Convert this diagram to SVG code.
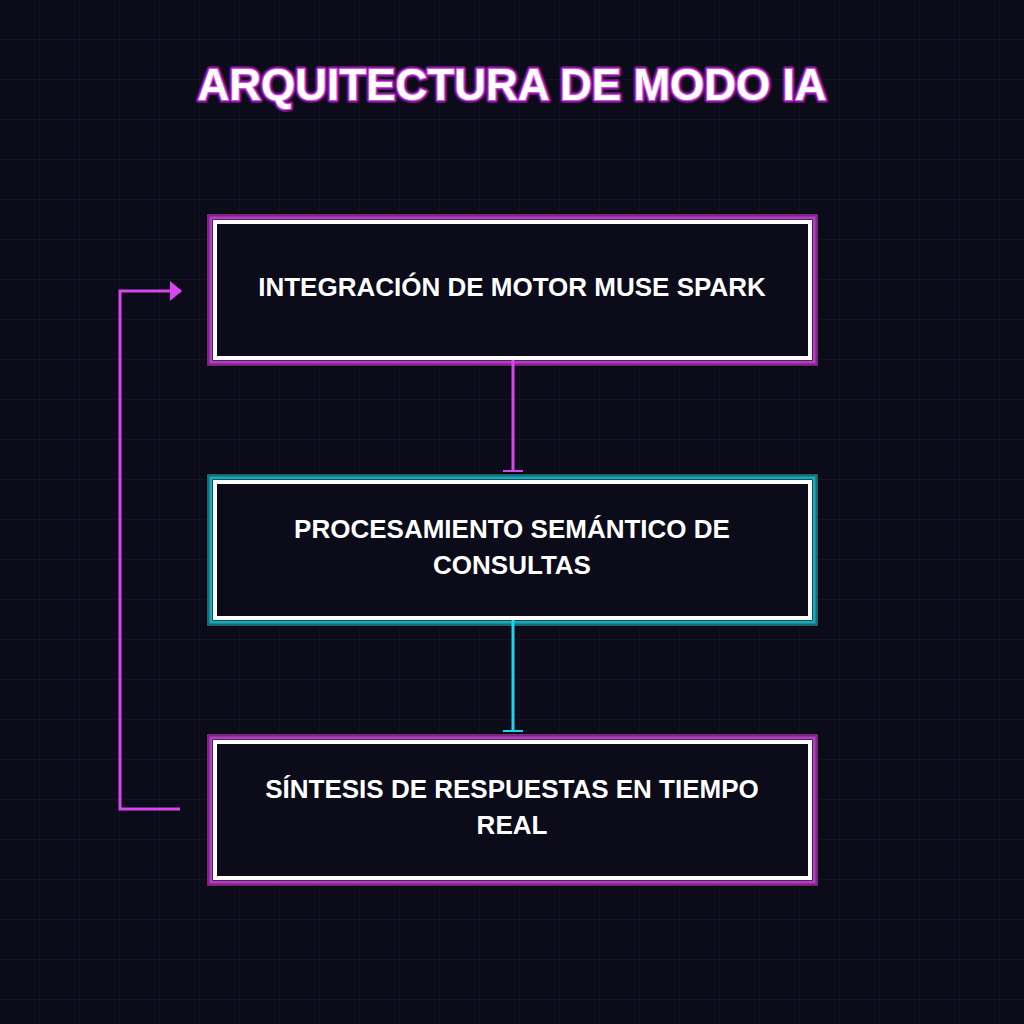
<svg xmlns="http://www.w3.org/2000/svg" width="1024" height="1024" viewBox="0 0 1024 1024">
<defs>
<pattern id="grid" width="40" height="40" patternUnits="userSpaceOnUse"><path d="M40 0V40H0" fill="none" stroke="#1a1a30" stroke-width="1"/></pattern>
<marker id="arr" markerWidth="12" markerHeight="20" refX="11" refY="10" orient="auto" markerUnits="userSpaceOnUse" viewBox="0 0 12 20"><path d="M0 0L12 10L0 20Z" fill="#d946ef"/></marker>
</defs>
<style>
.t{font-family:"Liberation Sans",Arial,sans-serif;font-weight:bold;fill:#fff;text-anchor:middle}
.lbl{font-size:26px}
.box{fill:#0b0b1a;stroke:#fff;stroke-width:4}
</style>
<rect width="1024" height="1024" fill="#0b0b1a"/>
<rect width="1024" height="1024" fill="url(#grid)"/>
<text x="512" y="100" class="t" font-size="44" stroke="#a21caf" stroke-width="6" stroke-linejoin="round" opacity="0.6">ARQUITECTURA DE MODO IA</text>
<text x="512" y="100" class="t" font-size="44" stroke="#d946ef" stroke-width="2.5" stroke-linejoin="round" paint-order="stroke">ARQUITECTURA DE MODO IA</text>
<g id="n1">
<rect x="206" y="213" width="613" height="154" fill="#000"/>
<rect x="208.5" y="215.5" width="608" height="149" fill="none" stroke="#7e2488" stroke-width="3"/>
<rect x="211" y="218" width="603" height="144" fill="none" stroke="#b040c0" stroke-width="3"/>
<rect x="215" y="222" width="595" height="136" class="box"/>
<text x="512" y="296" class="t lbl">INTEGRACIÓN DE MOTOR MUSE SPARK</text>
</g>
<g id="n2">
<rect x="206" y="473" width="613" height="154" fill="#000"/>
<rect x="208.5" y="475.5" width="608" height="149" fill="none" stroke="#136c78" stroke-width="3"/>
<rect x="211" y="478" width="603" height="144" fill="none" stroke="#1ca8b8" stroke-width="3"/>
<rect x="215" y="482" width="595" height="136" class="box"/>
<text x="512" y="538" class="t lbl">PROCESAMIENTO SEMÁNTICO DE</text>
<text x="512" y="574" class="t lbl">CONSULTAS</text>
</g>
<g id="n3">
<rect x="206" y="733" width="613" height="154" fill="#000"/>
<rect x="208.5" y="735.5" width="608" height="149" fill="none" stroke="#7e2488" stroke-width="3"/>
<rect x="211" y="738" width="603" height="144" fill="none" stroke="#b040c0" stroke-width="3"/>
<rect x="215" y="742" width="595" height="136" class="box"/>
<text x="512" y="798" class="t lbl">SÍNTESIS DE RESPUESTAS EN TIEMPO</text>
<text x="512" y="834" class="t lbl">REAL</text>
</g>
<g id="connectors" fill="none" stroke-width="3">
<path d="M513 360V471" stroke="#d946ef"/>
<path d="M503 471H523" stroke="#d946ef" stroke-width="2"/>
<path d="M513 620V731" stroke="#22d3ee"/>
<path d="M503 731H523" stroke="#22d3ee" stroke-width="2"/>
<path d="M180 809H120V291H181" stroke="#d946ef" marker-end="url(#arr)"/>
</g>
</svg>
